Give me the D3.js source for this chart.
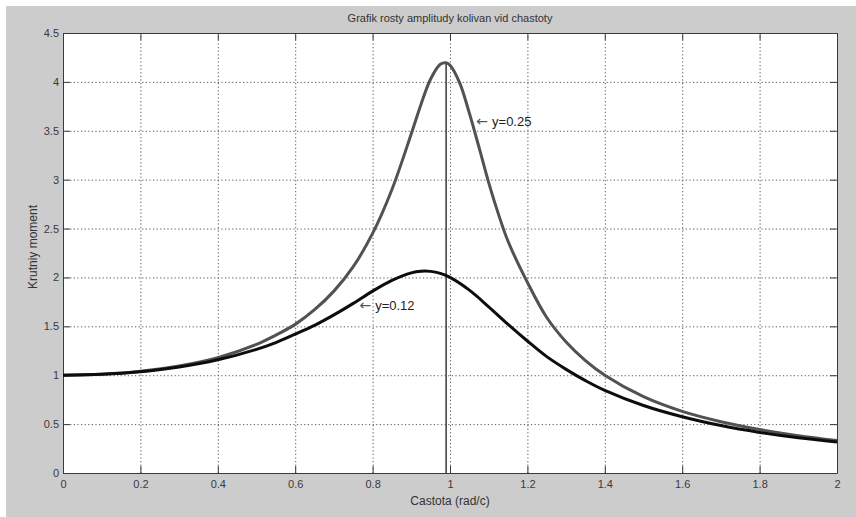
<!DOCTYPE html>
<html>
<head>
<meta charset="utf-8">
<script src="https://cdn.jsdelivr.net/npm/d3@7"></script>
<style>
    body { margin: 0; background: #ffffff; }
    svg { display: block; font-family: "Liberation Sans", Arial, sans-serif; }
    .axis path, .axis line { stroke: #3a3a3a; }
    .axis text { fill: #3a3a3a; font-size: 11px; }
    .grid line { stroke: #555555; stroke-dasharray: 1.2,2.4; }
    .grid path { stroke: none; }
</style>
</head>
<body>
<svg id="chart" width="856" height="517"></svg>
<script>
// Dữ liệu
const xTicks = [0, 0.2, 0.4, 0.6, 0.8, 1, 1.2, 1.4, 1.6, 1.8, 2];
const yTicks = [0, 0.5, 1, 1.5, 2, 2.5, 3, 3.5, 4, 4.5];

const grayX = [0, 0.1, 0.2, 0.3, 0.4, 0.5, 0.55, 0.6, 0.65, 0.7, 0.75, 0.8, 0.85, 0.9, 0.925, 0.95, 0.975, 0.99, 1.0,
    1.025, 1.05, 1.075, 1.1, 1.125, 1.15, 1.2, 1.25, 1.3, 1.35, 1.4, 1.5, 1.6, 1.7, 1.8, 1.9, 2.0];
const grayY = [1, 1.01, 1.04, 1.095, 1.18, 1.315, 1.41, 1.52, 1.67, 1.86, 2.11, 2.45, 2.90, 3.47, 3.77, 4.03, 4.18, 4.195, 4.17,
    3.99, 3.68, 3.33, 2.97, 2.65, 2.37, 1.95, 1.59, 1.34, 1.15, 1.0, 0.78, 0.63, 0.525, 0.445, 0.382, 0.333];

const blackX = [0, 0.1, 0.2, 0.3, 0.4, 0.5, 0.55, 0.6, 0.65, 0.7, 0.75, 0.8, 0.85, 0.9, 0.925, 0.95, 0.975, 1.0,
    1.05, 1.1, 1.15, 1.2, 1.25, 1.3, 1.35, 1.4, 1.5, 1.6, 1.7, 1.8, 1.9, 2.0];
const blackY = [1, 1.009, 1.036, 1.084, 1.158, 1.265, 1.334, 1.42, 1.51, 1.617, 1.735, 1.86, 1.97, 2.047, 2.064, 2.062, 2.041, 2.0,
    1.87, 1.70, 1.52, 1.35, 1.19, 1.06, 0.945, 0.845, 0.69, 0.575, 0.485, 0.415, 0.36, 0.318];

const peakX = 0.99;
const peakY = 4.2;

const labels = [
    { text: "y=0.25", x: 1.068, y: 3.6 },
    { text: "y=0.12", x: 0.766, y: 1.72 }
];

const title = "Grafik rosty amplitudy kolivan vid chastoty";
const xTitle = "Castota (rad/c)";
const yTitle = "Krutniy moment";

// ==========================================
// Vẽ biểu đồ
// ==========================================
const svg = d3.select("#chart");
const m = { left: 63, right: 837, top: 33, bottom: 473 };

// nền xám của figure
svg.append("rect").attr("x", 6).attr("y", 6).attr("width", 850).attr("height", 511).attr("fill", "#cccccc");
svg.append("rect").attr("x", m.left).attr("y", m.top)
    .attr("width", m.right - m.left).attr("height", m.bottom - m.top).attr("fill", "#ffffff");

const x = d3.scaleLinear().domain([0, 2]).range([m.left, m.right]);
const y = d3.scaleLinear().domain([0, 4.5]).range([m.bottom, m.top]);
const fmt = d => String(+d.toFixed(1));

// lưới chấm
svg.append("g").attr("class", "grid")
    .attr("transform", `translate(0,${m.bottom})`)
    .call(d3.axisBottom(x).tickValues(xTicks.slice(1, -1)).tickSize(-(m.bottom - m.top)).tickFormat(""));
svg.append("g").attr("class", "grid")
    .attr("transform", `translate(${m.left},0)`)
    .call(d3.axisLeft(y).tickValues(yTicks.slice(1, -1)).tickSize(-(m.right - m.left)).tickFormat(""));

// các trục (tick hướng vào trong)
svg.append("g").attr("class", "axis")
    .attr("transform", `translate(0,${m.bottom})`)
    .call(d3.axisBottom(x).tickValues(xTicks).tickSizeInner(-7).tickSizeOuter(0).tickPadding(7).tickFormat(fmt));
svg.append("g").attr("class", "axis")
    .attr("transform", `translate(0,${m.top})`)
    .call(d3.axisTop(x).tickValues(xTicks).tickSizeInner(-7).tickSizeOuter(0).tickFormat(""));
svg.append("g").attr("class", "axis")
    .attr("transform", `translate(${m.left},0)`)
    .call(d3.axisLeft(y).tickValues(yTicks).tickSizeInner(-7).tickSizeOuter(0).tickPadding(4).tickFormat(fmt));
svg.append("g").attr("class", "axis")
    .attr("transform", `translate(${m.right},0)`)
    .call(d3.axisRight(y).tickValues(yTicks).tickSizeInner(-7).tickSizeOuter(0).tickFormat(""));

// đường thẳng đứng tại đỉnh cộng hưởng
svg.append("line")
    .attr("x1", x(peakX)).attr("x2", x(peakX))
    .attr("y1", y(0)).attr("y2", y(peakY))
    .attr("stroke", "#3a3a3a").attr("stroke-width", 1.5);

const line = d3.line().x(d => x(d[0])).y(d => y(d[1])).curve(d3.curveCatmullRom);

svg.append("path")
    .datum(d3.zip(grayX, grayY))
    .attr("d", line)
    .attr("fill", "none").attr("stroke", "#525252").attr("stroke-width", 3);

svg.append("path")
    .datum(d3.zip(blackX, blackY))
    .attr("d", line)
    .attr("fill", "none").attr("stroke", "#0d0d0d").attr("stroke-width", 3);

// nhãn chú thích (mũi tên + chữ)
const note = svg.selectAll(".note")
    .data(labels)
    .enter().append("text")
    .attr("class", "note")
    .attr("x", d => x(d.x))
    .attr("y", d => y(d.y) + 5)
    .attr("font-size", 13)
    .attr("fill", "#222222");
note.append("tspan")
    .attr("font-family", "DejaVu Sans")
    .attr("font-size", 14)
    .attr("fill", "#555555")
    .text("\u2190");
note.append("tspan")
    .attr("dx", 4)
    .text(d => d.text);

// tiêu đề
svg.append("text")
    .attr("x", (m.left + m.right) / 2).attr("y", 22)
    .attr("text-anchor", "middle").attr("font-size", 11).attr("fill", "#333333")
    .text(title);
svg.append("text")
    .attr("x", (m.left + m.right) / 2).attr("y", 505)
    .attr("text-anchor", "middle").attr("font-size", 12).attr("fill", "#333333")
    .text(xTitle);
svg.append("text")
    .attr("transform", `translate(37,${(m.top + m.bottom) / 2 - 6}) rotate(-90)`)
    .attr("text-anchor", "middle").attr("font-size", 12).attr("fill", "#333333")
    .text(yTitle);
</script>
</body>
</html>
